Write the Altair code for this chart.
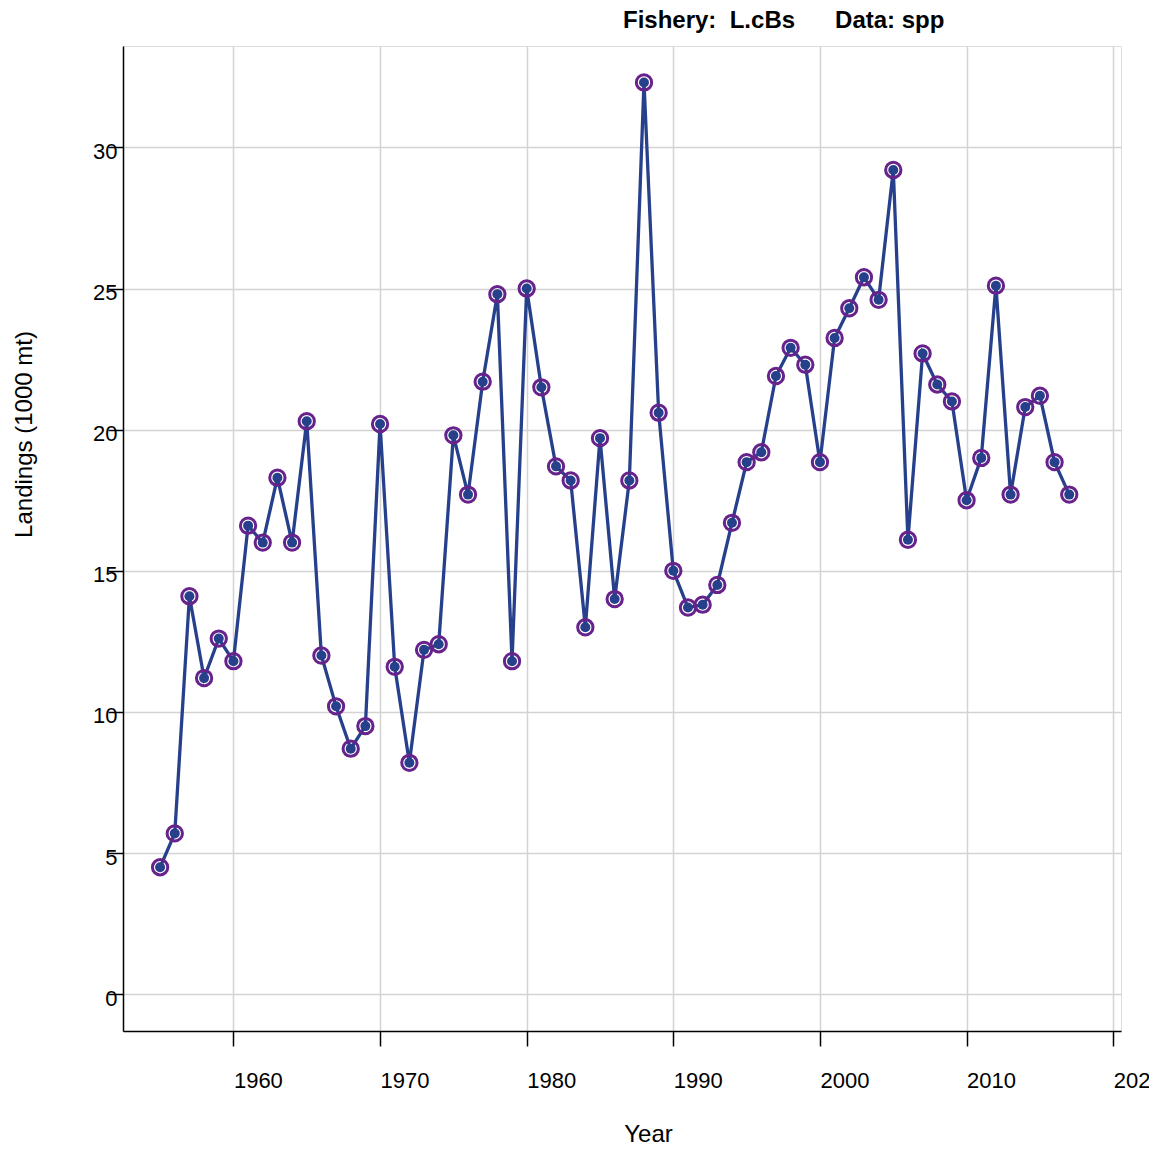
import altair as alt
import pandas as pd

years = list(range(1955, 2018))
landings = [
    4.5, 5.7, 14.1, 11.2, 12.6, 11.8, 16.6, 16.0, 18.3, 16.0,
    20.3, 12.0, 10.2, 8.7, 9.5, 20.2, 11.6, 8.2, 12.2, 12.4,
    19.8, 17.7, 21.7, 24.8, 11.8, 25.0, 21.5, 18.7, 18.2, 13.0,
    19.7, 14.0, 18.2, 32.3, 20.6, 15.0, 13.7, 13.8, 14.5, 16.7,
    18.85, 19.2, 21.9, 22.9, 22.3, 18.85, 23.25, 24.3, 25.4, 24.6,
    29.2, 16.1, 22.7, 21.6, 21.0, 17.5, 19.0, 25.1, 17.7, 20.8,
    21.2, 18.85, 17.7,
]
x_ticks = [1960, 1970, 1980, 1990, 2000, 2010, 2020]
y_ticks = [0, 5, 10, 15, 20, 25, 30]

df = pd.DataFrame({"Year": years, "Landings": landings})

FONT = "Liberation Sans"
LINE = "#27408B"
RING = "#68228B"

W, H = 998, 985

x = alt.X(
    "Year:Q",
    scale=alt.Scale(domain=[1952.47, 2020.53], nice=False, zero=False),
    axis=alt.Axis(
        values=x_ticks, format="d", title="Year",
        labelAlign="left", labelBaseline="alphabetic", labelPadding=41,
        labelFontSize=22, labelFont=FONT, labelColor="black",
        tickSize=15, tickWidth=1.5, tickColor="black",
        domainColor="black", domainWidth=1.5,
        gridColor="#D3D3D3", gridWidth=1.5,
        titleFontSize=24, titleFont=FONT, titleFontWeight="normal",
        titleColor="black", titleX=525, titleY=110,
        titleBaseline="alphabetic", titleAlign="center",
        labelOverlap=False, labelBound=False, labelFlush=False,
    ),
)
y = alt.Y(
    "Landings:Q",
    scale=alt.Scale(domain=[-1.30, 33.59], nice=False, zero=False),
    axis=alt.Axis(
        values=y_ticks, title="Landings (1000 mt)",
        labelAlign="right", labelBaseline="alphabetic", labelOffset=11,
        labelPadding=-9,
        labelFontSize=22, labelFont=FONT, labelColor="black",
        tickSize=15, tickWidth=1.5, tickColor="black",
        domainColor="black", domainWidth=1.5,
        gridColor="#D3D3D3", gridWidth=1.5,
        titleFontSize=24, titleFont=FONT, titleFontWeight="normal",
        titleColor="black", titleX=-99, titleY=388, titleAngle=270,
        titleBaseline="middle", titleAlign="center",
        labelOverlap=False, labelBound=False, labelFlush=False,
    ),
)

base = alt.Chart(df).encode(x=x, y=y)

line = base.mark_line(color=LINE, strokeWidth=3.3)
ring = base.mark_point(shape="circle", filled=False, size=235,
                       stroke=RING, strokeWidth=3, opacity=1)
dot = base.mark_point(shape="circle", filled=True, size=100,
                      color=LINE, opacity=1)

title_text = "Fishery:\u00a0\u00a0L.cBs\u00a0\u00a0\u00a0\u00a0\u00a0\u00a0Data: spp"

chart = (
    alt.layer(line, ring, dot)
    .properties(
        width=W, height=H,
        title=alt.TitleParams(
            text=title_text, anchor="start", frame="group",
            dx=500, dy=24, offset=18, baseline="alphabetic",
            fontSize=24, font=FONT, fontWeight="bold", color="black",
        ),
        autosize=alt.AutoSizeParams(type="none"),
        padding={"left": 115, "top": 38, "right": 28, "bottom": 113},
    )
    .configure_view(stroke="black", strokeWidth=1.5, fill="white")
    .configure(background="white")
)

chart.save("out.html", embed_options={"renderer": "svg", "actions": False})
